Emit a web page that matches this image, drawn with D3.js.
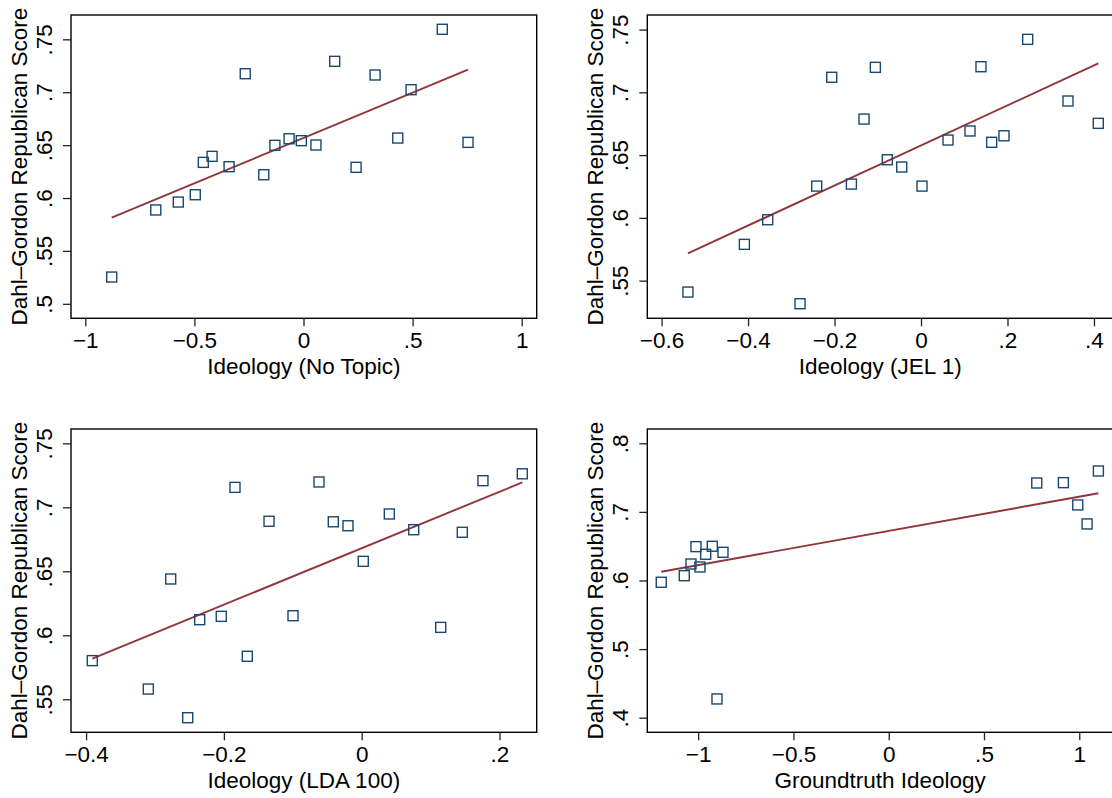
<!DOCTYPE html>
<html>
<head>
<meta charset="utf-8">
<script src="https://cdn.jsdelivr.net/npm/d3@7"></script>
<style>
  body { margin: 0; background: #fff; }
  svg { display: block; font-family: "Liberation Sans", Arial, sans-serif; }
</style>
</head>
<body>
<div id="chart"></div>
<script>
const width = 1112;
const height = 798;

// Ideology (No Topic)
const noTopicX = [-0.879, -0.677, -0.574, -0.496, -0.459, -0.419, -0.341, -0.267, -0.182, -0.131,
                  -0.066, -0.010, 0.057, 0.143, 0.241, 0.328, 0.432, 0.493, 0.636, 0.754];
const noTopicY = [0.5253, 0.5887, 0.5962, 0.6031, 0.6337, 0.6394, 0.6296, 0.7175, 0.6220, 0.6498,
                  0.6560, 0.6542, 0.6501, 0.7292, 0.6290, 0.7163, 0.6567, 0.7024, 0.7595, 0.6526];
const noTopicFit = [[-0.879, 0.5814], [0.754, 0.7213]];

// Ideology (JEL 1)
const jelX = [-0.539, -0.4085, -0.3545, -0.2798, -0.2412, -0.2065, -0.161, -0.1318, -0.1056, -0.0779,
              -0.0446, 0.0023, 0.0624, 0.1133, 0.1387, 0.1634, 0.1919, 0.2467, 0.3399, 0.410];
const jelY = [0.5409, 0.5789, 0.5985, 0.5316, 0.6253, 0.7120, 0.6269, 0.6787, 0.7199, 0.6463,
              0.6405, 0.6253, 0.6620, 0.6692, 0.7204, 0.6602, 0.6654, 0.7422, 0.6931, 0.6753];
const jelFit = [[-0.539, 0.5717], [0.410, 0.7231]];

// Ideology (LDA 100)
const ldaX = [-0.391, -0.3097, -0.2772, -0.2525, -0.2351, -0.2038, -0.1839, -0.166, -0.1345, -0.0997,
              -0.062, -0.0412, -0.0199, 0.0023, 0.0401, 0.0755, 0.1147, 0.146, 0.176, 0.2331];
const ldaY = [0.5802, 0.5580, 0.6440, 0.5356, 0.6122, 0.6148, 0.7156, 0.5836, 0.6891, 0.6153,
              0.7198, 0.6887, 0.6856, 0.6578, 0.6948, 0.6825, 0.6062, 0.6805, 0.7208, 0.7262];
const ldaFit = [[-0.391, 0.5817], [0.2331, 0.7195]];

// Groundtruth Ideology
const truthX = [-1.1937, -1.073, -1.0378, -1.0115, -0.9906, -0.9606, -0.926, -0.8698, -0.9013,
                0.7769, 0.9166, 0.9921, 1.041, 1.1003];
const truthY = [0.5974, 0.6070, 0.6240, 0.6493, 0.6197, 0.6382, 0.6499, 0.6411, 0.4273,
                0.7421, 0.7426, 0.7101, 0.6824, 0.7596];
const truthFit = [[-1.1937, 0.6128], [1.1003, 0.7271]];

// axis ticks and titles
const noTopicXTicks = [-1, -0.5, 0, 0.5, 1];
const jelXTicks = [-0.6, -0.4, -0.2, 0, 0.2, 0.4];
const ldaXTicks = [-0.4, -0.2, 0, 0.2];
const truthXTicks = [-1, -0.5, 0, 0.5, 1];
const scoreTicks = [0.5, 0.55, 0.6, 0.65, 0.7, 0.75];
const truthYTicks = [0.4, 0.5, 0.6, 0.7, 0.8];
const xTitles = ["Ideology (No Topic)", "Ideology (JEL 1)", "Ideology (LDA 100)", "Groundtruth Ideology"];
const yTitle = "Dahl\u2013Gordon Republican Score";

const NAVY = "#1a476f";
const MAROON = "#90353b";
const FONT = 22.5;

// Stata-style tick labels: .5, −.5, 0, 1
const fmt = v => {
    let s = d3.format("")(+v.toFixed(3));
    s = s.replace(/^(-?)0\./, "$1.");
    return s.replace("-", "\u2212");
};

const svg = d3.select("#chart")
    .append("svg")
    .attr("width", width)
    .attr("height", height);

const panels = [
    {xs: noTopicX, ys: noTopicY, fit: noTopicFit, xDom: [-1.0655, 1.0687], yDom: [0.4863, 0.773],
     xTicks: noTopicXTicks, yTicks: scoreTicks, box: [71, 15, 536.7, 318.3]},
    {xs: jelX, ys: jelY, fit: jelFit, xDom: [-0.633, 0.444], yDom: [0.52, 0.7616],
     xTicks: jelXTicks, yTicks: scoreTicks.filter(v => v >= 0.55), box: [647.3, 15, 1113, 318.3]},
    {xs: ldaX, ys: ldaY, fit: ldaFit, xDom: [-0.4219, 0.254], yDom: [0.5242, 0.7612],
     xTicks: ldaXTicks, yTicks: scoreTicks.filter(v => v >= 0.55), box: [71, 429, 536.7, 732.3]},
    {xs: truthX, ys: truthY, fit: truthFit, xDom: [-1.267, 1.177], yDom: [0.3787, 0.8208],
     xTicks: truthXTicks, yTicks: truthYTicks, box: [647.3, 429, 1113, 732.3]}
];

panels.forEach((p, i) => {
    const [x0, y0, x1, y1] = p.box;
    const x = d3.scaleLinear().domain(p.xDom).range([x0, x1]);
    const y = d3.scaleLinear().domain(p.yDom).range([y1, y0]);
    const g = svg.append("g");

    // frame
    g.append("rect")
        .attr("x", x0).attr("y", y0)
        .attr("width", x1 - x0).attr("height", y1 - y0)
        .attr("fill", "none").attr("stroke", "#000").attr("stroke-width", 1.4);

    // x axis
    const gx = g.append("g")
        .attr("transform", `translate(0,${y1})`)
        .call(d3.axisBottom(x).tickValues(p.xTicks).tickFormat(fmt).tickSize(8).tickSizeOuter(0));
    gx.select(".domain").remove();
    gx.selectAll(".tick line").attr("stroke", "#222").attr("stroke-width", 1.3);
    gx.selectAll(".tick text")
        .attr("y", 30).attr("dy", null)
        .attr("font-size", FONT).attr("fill", "#000");

    // y axis, rotated labels
    const gy = g.append("g")
        .attr("transform", `translate(${x0},0)`)
        .call(d3.axisLeft(y).tickValues(p.yTicks).tickFormat(fmt).tickSize(8).tickSizeOuter(0));
    gy.select(".domain").remove();
    gy.selectAll(".tick line").attr("stroke", "#222").attr("stroke-width", 1.3);
    gy.selectAll(".tick text")
        .attr("x", null).attr("dy", null)
        .attr("transform", "translate(-19,0) rotate(-90)")
        .attr("text-anchor", "middle")
        .attr("font-size", FONT).attr("fill", "#000");

    // titles
    g.append("text")
        .attr("x", (x0 + x1) / 2).attr("y", y1 + 56)
        .attr("text-anchor", "middle")
        .attr("font-size", FONT)
        .text(xTitles[i]);
    g.append("text")
        .attr("transform", `translate(${x0 - 44},${(y0 + y1) / 2}) rotate(-90)`)
        .attr("text-anchor", "middle")
        .attr("font-size", FONT)
        .text(yTitle);

    // fitted line
    g.append("path")
        .datum(p.fit)
        .attr("d", d3.line().x(d => x(d[0])).y(d => y(d[1])))
        .attr("fill", "none")
        .attr("stroke", MAROON)
        .attr("stroke-width", 1.9);

    // hollow square markers
    g.selectAll(".pt")
        .data(p.xs.map((v, k) => [v, p.ys[k]]))
        .join("rect")
        .attr("class", "pt")
        .attr("x", d => x(d[0]) - 5)
        .attr("y", d => y(d[1]) - 5)
        .attr("width", 10).attr("height", 10)
        .attr("fill", "none")
        .attr("stroke", NAVY)
        .attr("stroke-width", 1.4);
});
</script>
</body>
</html>
